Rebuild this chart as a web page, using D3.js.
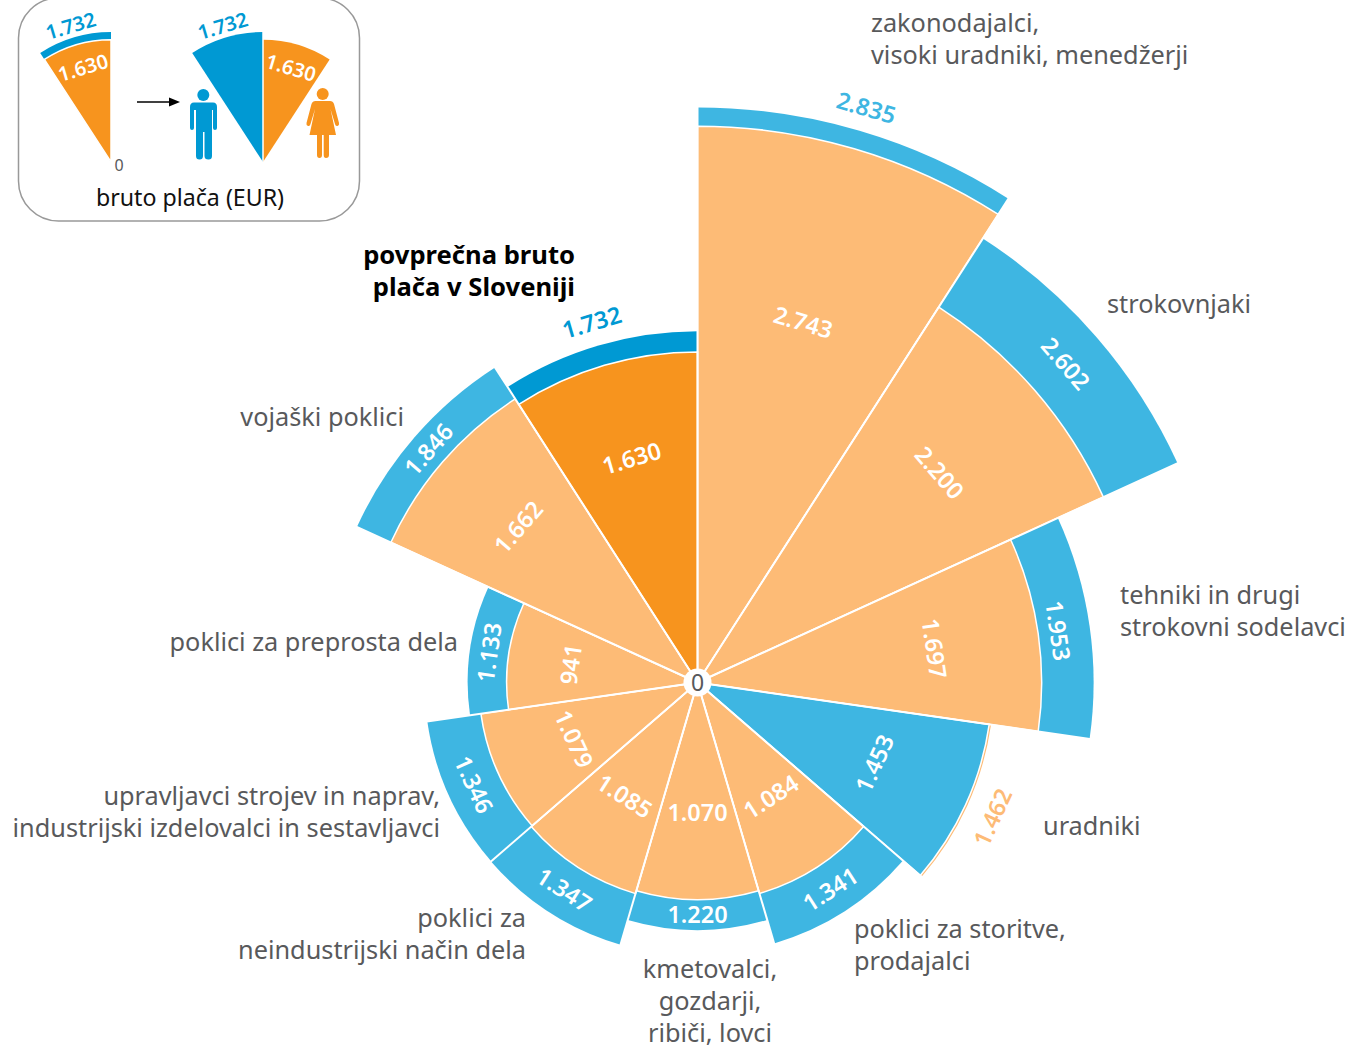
<!DOCTYPE html>
<html lang="sl">
<head>
<meta charset="UTF-8">
<script src="https://d3js.org/d3.v7.min.js"></script>
<style>
  html, body { margin: 0; padding: 0; background: #fff; }
  svg { display: block; font-family: "Noto Sans", "Open Sans", sans-serif; }
  .cat { font-size: 25.3px; fill: #58595b; }
  .cat.main { font-size: 25.6px; fill: #000; font-weight: 700; }
  .val { font-size: 23.5px; font-weight: 600; text-anchor: middle; }
</style>
</head>
<body>
<script>
// salaries in EUR, clockwise from 12 o'clock
var categories = [
  ["zakonodajalci,", "visoki uradniki, menedžerji"],
  ["strokovnjaki"],
  ["tehniki in drugi", "strokovni sodelavci"],
  ["uradniki"],
  ["poklici za storitve,", "prodajalci"],
  ["kmetovalci,", "gozdarji,", "ribiči, lovci"],
  ["poklici za", "neindustrijski način dela"],
  ["upravljavci strojev in naprav,", "industrijski izdelovalci in sestavljavci"],
  ["poklici za preprosta dela"],
  ["vojaški poklici"],
  ["povprečna bruto", "plača v Sloveniji"]
];
var women = [2743, 2200, 1697, 1462, 1084, 1070, 1085, 1079, 941, 1662, 1630];
var men = [2835, 2602, 1953, 1453, 1341, 1220, 1347, 1346, 1133, 1846, 1732];
var averageIndex = 10;

var insetWomen = 1630;
var insetMen = 1732;
var insetCaption = "bruto plača (EUR)";

var colors = {
  women: "#fdbb76", womenDark: "#f7941e",
  men: "#3eb6e2", menDark: "#0099d3",
  text: "#58595b"
};

var width = 1349, height = 1048;
var cx = 697.5, cy = 682.5;

// where each category label sits: x, first baseline, anchor
var catLayout = [
  [871, 32, "start"], [1107, 313, "start"], [1120, 604, "start"], [1043, 835, "start"],
  [854, 938, "start"], [710, 978, "middle"], [526, 927, "end"], [440, 805, "end"],
  [458, 651, "end"], [404, 426, "end"], [575, 264, "end"]
];
// how far the inner value sits below the wedge's outer edge
var innerInset = [181, 126, 105, 100, 84, 87, 85, 83, 63, 100, 97];
// radial shift of the ring value from the middle of its ring
var ringNudge = [0, 0, -6, 4, 0, 0, 0, 0, 0, 0, 0];

var svg = d3.select("body").append("svg")
  .attr("width", width)
  .attr("height", height);

var fmt = d3.formatLocale({decimal: ",", thousands: ".", grouping: [3], currency: ["", ""]}).format(",d");

var n = categories.length,
  step = 2 * Math.PI / n;

var radius = d3.scaleLinear().domain([0, 2835]).range([0, 575]);
var arc = d3.arc();

// text rotated along the arc, flipped so it never reads upside down
function polarText(g, angle, r, txt, color) {
  var deg = angle * 180 / Math.PI;
  var rot = deg;
  if (deg > 90 && deg <= 270) rot = deg - 180;
  else if (deg > 270) rot = deg - 360;
  var x = r * Math.sin(angle),
    y = -r * Math.cos(angle);
  return g.append("text")
    .attr("class", "val")
    .attr("transform", "translate(" + x + "," + y + ")rotate(" + rot + ")")
    .attr("dy", ".36em")
    .style("fill", color)
    .text(txt);
}

// main rose
var rose = svg.append("g").attr("transform", "translate(" + cx + "," + cy + ")");

var rows = d3.range(n).map(function(i) {
  var dark = i === averageIndex;
  return {
    i: i,
    a0: i * step,
    a1: (i + 1) * step,
    hi: Math.max(women[i], men[i]),
    lo: Math.min(women[i], men[i]),
    hiColor: men[i] >= women[i] ? (dark ? colors.menDark : colors.men) : (dark ? colors.womenDark : colors.women),
    loColor: men[i] >= women[i] ? (dark ? colors.womenDark : colors.women) : (dark ? colors.menDark : colors.men)
  };
});

// larger value first, the smaller wedge on top with a white edge
rows.forEach(function(d) {
  rose.append("path")
    .attr("d", arc({innerRadius: 0, outerRadius: radius(d.hi), startAngle: d.a0, endAngle: d.a1}))
    .attr("fill", d.hiColor);
  rose.append("path")
    .attr("d", arc({innerRadius: 0, outerRadius: radius(d.lo), startAngle: d.a0, endAngle: d.a1}))
    .attr("fill", d.loColor)
    .attr("stroke", "#fff")
    .attr("stroke-width", 1.5);
});

// white spokes between sectors
rows.forEach(function(d, i) {
  var prev = rows[(i + n - 1) % n];
  var r = radius(Math.max(d.hi, prev.hi)) + 2;
  rose.append("line")
    .attr("x2", r * Math.sin(d.a0))
    .attr("y2", -r * Math.cos(d.a0))
    .attr("stroke", "#fff")
    .attr("stroke-width", 2);
});

rows.forEach(function(d) {
  var mid = (d.a0 + d.a1) / 2;
  var ring = radius(d.hi) - radius(d.lo);

  polarText(rose, mid, radius(d.lo) - innerInset[d.i], fmt(d.lo), "#fff");
  if (ring < 25) {
    polarText(rose, mid, radius(d.hi) + 24 + ringNudge[d.i], fmt(d.hi), d.hiColor);
  } else {
    polarText(rose, mid, (radius(d.hi) + radius(d.lo)) / 2 + ringNudge[d.i], fmt(d.hi), "#fff");
  }
});

rose.append("circle").attr("r", 14).attr("fill", "#fff");
rose.append("text")
  .attr("text-anchor", "middle")
  .attr("dy", ".36em")
  .style("font-size", "23px")
  .style("fill", colors.text)
  .text("0");

// category labels
categories.forEach(function(lines, i) {
  var pos = catLayout[i];
  var t = svg.append("text")
    .attr("class", i === averageIndex ? "cat main" : "cat")
    .attr("text-anchor", pos[2]);
  lines.forEach(function(line, k) {
    t.append("tspan")
      .attr("x", pos[0])
      .attr("y", pos[1] + k * 32)
      .text(line);
  });
});

// legend box, top edge runs off the page
var legend = svg.append("g");
legend.append("rect")
  .attr("x", 18.5).attr("y", -2)
  .attr("width", 341).attr("height", 223)
  .attr("rx", 40).attr("ry", 40)
  .attr("fill", "none")
  .attr("stroke", "#999")
  .attr("stroke-width", 1.5);

var insetR = d3.scaleLinear().domain([0, insetMen]).range([0, 130]);
var insetA = 33 * Math.PI / 180;
var insetMid = insetA / 2;

var left = legend.append("g").attr("transform", "translate(111,162)");
left.append("path")
  .attr("d", arc({innerRadius: 0, outerRadius: insetR(insetMen), startAngle: -insetA, endAngle: 0}))
  .attr("fill", colors.menDark);
left.append("path")
  .attr("d", arc({innerRadius: 0, outerRadius: insetR(insetWomen), startAngle: -insetA, endAngle: 0}))
  .attr("fill", colors.womenDark)
  .attr("stroke", "#fff")
  .attr("stroke-width", 1.5);
polarText(left, -insetMid, insetR(insetMen) + 12, fmt(insetMen), colors.menDark).style("font-size", "20px");
polarText(left, -insetMid, insetR(insetWomen) - 24, fmt(insetWomen), "#fff").style("font-size", "20px");

var right = legend.append("g").attr("transform", "translate(263,162)");
right.append("path")
  .attr("d", arc({innerRadius: 0, outerRadius: insetR(insetMen), startAngle: -insetA, endAngle: 0}))
  .attr("fill", colors.menDark);
right.append("path")
  .attr("d", arc({innerRadius: 0, outerRadius: insetR(insetWomen), startAngle: 0, endAngle: insetA}))
  .attr("fill", colors.womenDark);
right.append("line")
  .attr("y2", -insetR(insetMen) - 1)
  .attr("stroke", "#fff")
  .attr("stroke-width", 1.5);
polarText(right, -insetMid, insetR(insetMen) + 12, fmt(insetMen), colors.menDark).style("font-size", "20px");
polarText(right, insetMid, insetR(insetWomen) - 24, fmt(insetWomen), "#fff").style("font-size", "20px");

legend.append("text")
  .attr("x", 119).attr("y", 171)
  .attr("text-anchor", "middle")
  .style("font-size", "16px")
  .style("fill", colors.text)
  .text("0");

legend.append("text")
  .attr("x", 190).attr("y", 206)
  .attr("text-anchor", "middle")
  .style("font-size", "23.2px")
  .style("fill", "#111")
  .text(insetCaption);

// arrow
legend.append("line")
  .attr("x1", 137).attr("y1", 102).attr("x2", 172).attr("y2", 102)
  .attr("stroke", "#000").attr("stroke-width", 1.3);
legend.append("path")
  .attr("d", "M169,97.5L180,102L169,106.5Z")
  .attr("fill", "#000");

// man
var man = legend.append("g").attr("fill", colors.menDark);
man.append("circle").attr("cx", 203.3).attr("cy", 95).attr("r", 6);
man.append("path")
  .attr("d", "M194,102.5H213Q217,102.5 217,107V128Q217,130 215,130Q213,130 213,128V110H212V156Q212,159.5 208.5,159.5Q204.5,159.5 204.5,156V132H203V156Q203,159.5 199.5,159.5Q196,159.5 196,156V110H194V128Q194,130 192,130Q190,130 190,128V107Q190,102.5 194,102.5Z");

// woman
var woman = legend.append("g").attr("fill", colors.womenDark);
woman.append("circle").attr("cx", 322.7).attr("cy", 94).attr("r", 6);
woman.append("path")
  .attr("d", "M315.5,101H330Q333,101 334,104L339,123Q339.5,125.5 337.5,126Q335.5,126.5 335,124L330.5,109L336,135H329V155Q329,158 326,158Q323.7,158 323.7,155V135H322V155Q322,158 319.5,158Q317,158 317,155V135H309.5L315,109L310.5,124Q310,126.5 308,126Q306,125.5 306.5,123L311.5,104Q312.5,101 315.5,101Z");
</script>
</body>
</html>
